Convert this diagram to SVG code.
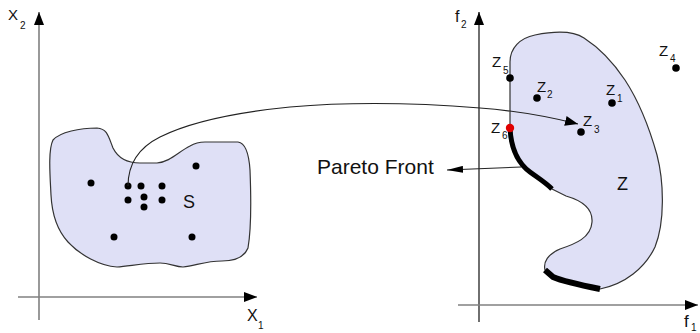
<svg xmlns="http://www.w3.org/2000/svg" width="700" height="333" viewBox="0 0 700 333">
<style>
.region{fill:#dfe0f6;stroke:#333;stroke-width:1.2}
.thick{fill:none;stroke:#000;stroke-linecap:butt}
.dot{fill:#000}
.axg{stroke:#808080;stroke-width:1.6;fill:none}
.axk{stroke:#222;stroke-width:1.3;fill:none}
.conn{stroke:#222;stroke-width:1.1;fill:none}
text{font-family:"Liberation Sans",Arial,sans-serif;fill:#111}
.lab{font-size:15px}
.sub{font-size:10px}
</style>
<defs>
<marker id="ax" markerWidth="14" markerHeight="10" refX="13" refY="5" orient="auto" markerUnits="userSpaceOnUse">
<path d="M0,0 L13,5 L0,10 Z" fill="#000"/>
</marker>
<marker id="ah" markerWidth="14" markerHeight="10" refX="13" refY="5" orient="auto" markerUnits="userSpaceOnUse">
<path d="M0,0 L13,5 L0,10 Z" fill="#000"/>
</marker>
<marker id="ahp" markerWidth="17" markerHeight="7" refX="16" refY="3.5" orient="auto" markerUnits="userSpaceOnUse">
<path d="M0,0 L16,3.5 L0,7 Z" fill="#000"/>
</marker>
</defs>

<g id="axes-left">
<line class="axg" x1="39" y1="320" x2="39" y2="12" marker-end="url(#ax)"/>
<line class="axg" x1="18" y1="297" x2="257" y2="297" marker-end="url(#ax)"/>
<text x="8" y="20" font-size="15">X</text><text x="20" y="29" class="sub">2</text>
<text x="247" y="321" font-size="16">X</text><text x="258" y="329" class="sub">1</text>
</g>

<g id="axes-right">
<line class="axk" x1="479" y1="322" x2="479" y2="12" marker-end="url(#ax)"/>
<line class="axg" x1="458" y1="305" x2="698" y2="305" marker-end="url(#ax)"/>
<text x="455" y="22" font-size="16">f</text><text x="461" y="28" class="sub">2</text>
<text x="684" y="327" font-size="17">f</text><text x="691" y="331" class="sub">1</text>
</g>

<g id="S">
<path class="region" d="M53,140 C60,132 80,128 97,128 C107,129 108,135 113,148 C118,158 128,163 140,163 L157,163 C170,162 178,152 190,146 C195,143 198,142 205,142 L238,142 C246,143 249,155 250,170 C251,195 252,225 248,248 C244,258 235,261 222,261 C205,261 195,266 183,267 C175,267 170,263 160,263 C145,263 130,266 117,267 C100,266 80,255 68,242 C57,230 52,215 51,195 C50,175 48,150 53,140 Z"/>
<circle class="dot" cx="91" cy="183" r="3.5"/>
<circle class="dot" cx="128" cy="186" r="3.5"/>
<circle class="dot" cx="141" cy="186" r="3.5"/>
<circle class="dot" cx="162" cy="186" r="3.5"/>
<circle class="dot" cx="128" cy="200" r="3.5"/>
<circle class="dot" cx="144" cy="197" r="3.5"/>
<circle class="dot" cx="162" cy="200" r="3.5"/>
<circle class="dot" cx="144" cy="207" r="3.5"/>
<circle class="dot" cx="196" cy="166" r="3.5"/>
<circle class="dot" cx="114" cy="237" r="3.5"/>
<circle class="dot" cx="192" cy="237" r="3.5"/>
<text x="183" y="208" font-size="18">S</text>
</g>

<g id="Z">
<path class="region" d="M510,128 L510,62 C510,48 520,38 535,35 C550,32 572,30 584,38 C598,47 613,62 625,80 C640,103 650,130 657,155 C664,182 665,222 655,247 C645,268 625,284 600,289 C585,286 560,280 553,277 L545,270 C543,262 548,254 560,249 C575,244 591,238 592,222 C593,208 580,200 566,196 C560,193 556,191 552,189 C545,182 538,178 530,172 C518,163 511,150 510,128 Z"/>
<path class="thick" stroke-width="5" d="M510,128 C511,150 518,163 530,172 C538,178 545,182 552,189"/>
<path class="thick" stroke-width="6" d="M545,270 L553,277 C560,280 585,286 600,289"/>
<circle class="dot" cx="510" cy="78" r="3.8"/>
<circle class="dot" cx="537" cy="98" r="3.8"/>
<circle class="dot" cx="612" cy="103" r="3.8"/>
<circle class="dot" cx="581" cy="132" r="3.8"/>
<circle class="dot" cx="676" cy="68" r="3.8"/>
<circle cx="510" cy="128" r="4.2" fill="#e00000"/>
<text x="617" y="190" font-size="18">Z</text>
<text class="lab" x="492" y="67">Z</text><text class="sub" x="503" y="74">5</text>
<text class="lab" x="537" y="92">Z</text><text class="sub" x="547" y="98">2</text>
<text class="lab" x="606" y="95">Z</text><text class="sub" x="617" y="102">1</text>
<text class="lab" x="583" y="126">Z</text><text class="sub" x="594" y="133">3</text>
<text class="lab" x="659" y="56">Z</text><text class="sub" x="670" y="62">4</text>
<text class="lab" x="491" y="133">Z</text><text class="sub" x="502" y="139">6</text>
</g>

<g id="pareto-label">
<text x="317" y="174" font-size="21">Pareto Front</text>
</g>

<g id="connectors">
<path class="conn" d="M128,186 C128,165 138,148 160,137 C190,122 230,113 290,107 C360,101 430,104 480,108 C520,111 550,117 578,124" marker-end="url(#ah)"/>
<path class="conn" d="M521,167 L447,170" marker-end="url(#ahp)"/>
</g>
</svg>
